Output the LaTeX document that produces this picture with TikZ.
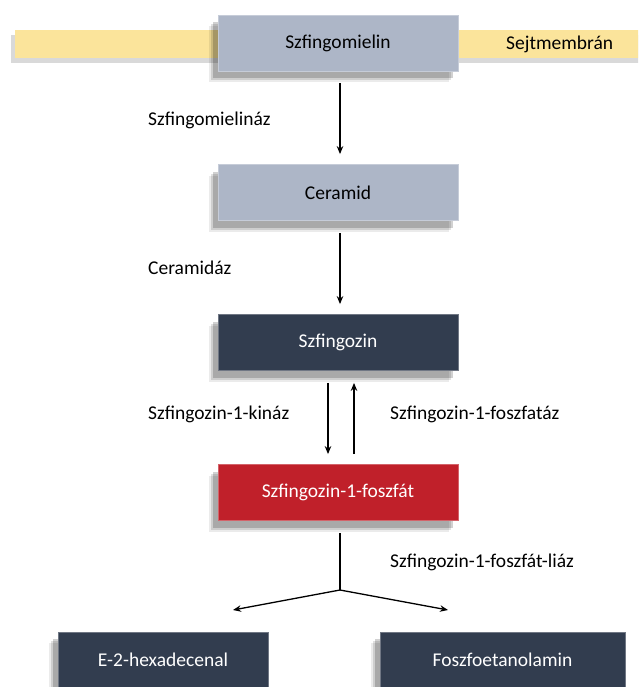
\documentclass[tikz,border=0pt]{standalone}
\usepackage{fontspec}
\setmainfont{Carlito}
\usetikzlibrary{arrows.meta,shadows}

\definecolor{membrane}{HTML}{FBE49B}
\definecolor{lightbox}{HTML}{ADB6C7}
\definecolor{darkbox}{HTML}{323D4F}
\definecolor{redbox}{HTML}{C0202A}

\tikzset{
  box/.style={rectangle, draw=#1!70!white, line width=0.8pt, fill=#1,
    minimum width=240pt, minimum height=56pt, inner sep=0pt,
    font=\fontsize{19.5}{22}\selectfont,
    drop shadow={shadow xshift=-9pt, shadow yshift=-11pt, opacity=0.08, fill=black},
    drop shadow={shadow xshift=-7pt, shadow yshift=-9pt, opacity=0.12, fill=black},
    drop shadow={shadow xshift=-5pt, shadow yshift=-7pt, opacity=0.18, fill=black}},
  label/.style={font=\fontsize{19.5}{22}\selectfont, inner sep=0pt, anchor=west},
  arr/.style={line width=1.3pt, -{Stealth[length=8pt,width=6.5pt]}}
}

\begin{document}
\begin{tikzpicture}[x=1pt, y=-1pt]
    \useasboundingbox (0,0) rectangle (638,687);
    \clip (0,0) rectangle (638,687);
    % membrane
    \fill[membrane, drop shadow={shadow xshift=-4pt, shadow yshift=-5pt, opacity=0.15, fill=black}] (15,30) rectangle (645,58);
    \node[label] (membr) at (506,44) {Sejtmembrán};

    \node[box=lightbox] (szm) at (338,43.5) {Szfingomielin};
    \node[box=lightbox] (cer) at (338,192.5) {Ceramid};
    \node[box=darkbox, text=white] (szf) at (338,342.5) {Szfingozin};
    \node[box=redbox, text=white] (s1p) at (338,492.5) {Szfingozin-1-foszfát};
    \node[box=darkbox, text=white, minimum width=210pt] (hex) at (163,660) {E-2-hexadecenal};
    \node[box=darkbox, text=white, minimum width=245pt] (foe) at (502.5,660) {Foszfoetanolamin};

    \coordinate (junc) at (340,590);
    \coordinate (hexend) at (233,610);
    \coordinate (foeend) at (448,610);

    \draw[arr, shorten <=11pt, shorten >=10pt] ([xshift=2pt]szm.south) -- ([xshift=2pt]cer.north);
    \draw[arr, shorten <=12pt, shorten >=10pt] ([xshift=2pt]cer.south) -- ([xshift=2pt]szf.north);
    \draw[arr, shorten <=12pt, shorten >=10pt] ([xshift=-10pt]szf.south) -- ([xshift=-10pt]s1p.north);
    \draw[arr, shorten <=10pt, shorten >=12pt] ([xshift=16pt]s1p.north) -- ([xshift=16pt]szf.south);
    \draw[line width=1.3pt, shorten <=12pt] ([xshift=2pt]s1p.south) -- (junc);
    \draw[arr] (junc) -- (hexend);
    \draw[arr] (junc) -- (foeend);

    \node[label] (l1) at (148,120) {Szfingomielináz};
    \node[label] (l2) at (148,268) {Ceramidáz};
    \node[label] (l3) at (148,414) {Szfingozin-1-kináz};
    \node[label] (l4) at (390,414) {Szfingozin-1-foszfatáz};
    \node[label] (l5) at (390,562) {Szfingozin-1-foszfát-liáz};
\end{tikzpicture}
\end{document}
